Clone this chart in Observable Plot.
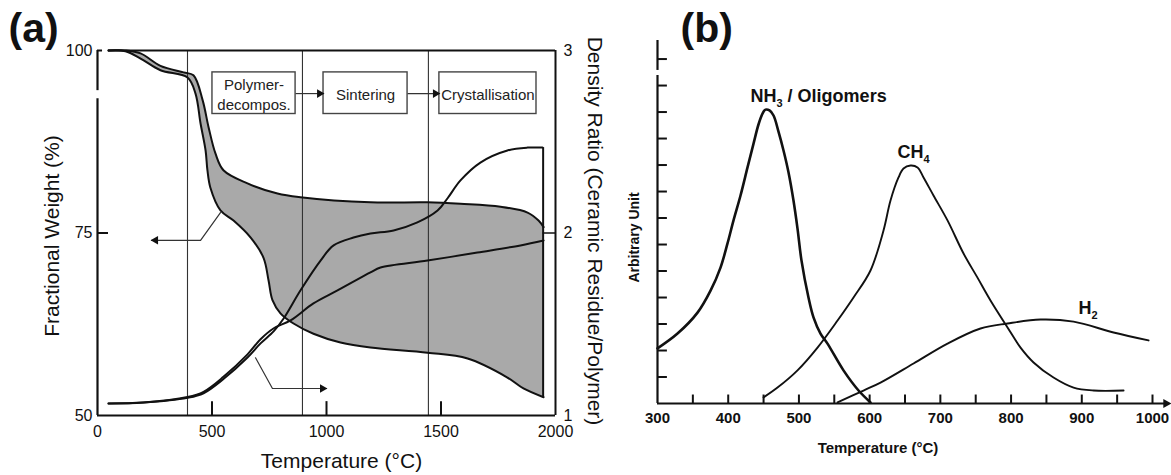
<!DOCTYPE html>
<html>
<head>
<meta charset="utf-8">
<script src="https://cdn.jsdelivr.net/npm/d3@7"></script>
<script src="https://cdn.jsdelivr.net/npm/@observablehq/plot@0.6"></script>
<style>
  html, body { margin: 0; padding: 0; background: #fff; }
  #fig { position: relative; width: 1171px; height: 475px; overflow: hidden; background: #fff; }
  #fig > svg { position: absolute; top: 0; }
</style>
</head>
<body>
<div id="fig"></div>
<script>
// ---------- (a) thermogravimetry and density ratio vs temperature ----------
// upper and lower weight-loss curves (°C, %)
const tgaUpperT = [48, 122, 188, 275, 376, 419, 459, 485, 515, 550, 655, 786, 886, 1192, 1441, 1585, 1760, 1878, 1926, 1948];
const tgaUpperW = [100, 100, 99.6, 97.9, 97.0, 96.6, 93.2, 89.5, 85.9, 83.6, 81.8, 80.4, 79.9, 79.2, 79.2, 79.0, 78.6, 77.8, 76.7, 75.8];
const tgaLowerT = [48, 122, 188, 275, 393, 428, 450, 472, 480, 493, 537, 594, 668, 725, 747, 764, 799, 856, 943, 1061, 1192, 1441, 1616, 1790, 1860, 1948];
const tgaLowerW = [100, 99.9, 98.9, 97.3, 96.3, 94.1, 90.0, 86.3, 83.6, 81.2, 78.1, 76.7, 74.4, 71.6, 68.5, 65.8, 64.0, 62.6, 61.2, 60.0, 59.3, 58.6, 57.8, 55.2, 53.7, 52.5];

// density ratio curves (ceramic residue / polymer)
const densSteepT = [48, 201, 393, 463, 550, 655, 712, 770, 812, 886, 974, 1031, 1118, 1192, 1293, 1397, 1485, 1528, 1585, 1672, 1790, 1878, 1943];
const densSteepD = [1.066, 1.071, 1.097, 1.122, 1.200, 1.318, 1.395, 1.462, 1.530, 1.685, 1.849, 1.932, 1.975, 1.997, 2.014, 2.058, 2.123, 2.189, 2.288, 2.386, 2.452, 2.468, 2.468];
const densShallowT = [48, 201, 393, 463, 550, 655, 712, 770, 843, 943, 1048, 1192, 1236, 1441, 1659, 1847, 1948];
const densShallowD = [1.066, 1.071, 1.101, 1.130, 1.212, 1.335, 1.418, 1.478, 1.521, 1.614, 1.685, 1.784, 1.811, 1.849, 1.893, 1.932, 1.959];

// process stages
const stageNames = ["Polymer-\ndecompos.", "Sintering", "Crystallisation"];
const stageT1 = [502, 987, 1493];
const stageT2 = [865, 1354, 1917];
const stageTop = 97.0, stageBottom = 91.3;
const stageBoundaries = [393, 895, 1445];

// pointers from the curves to their axes
const weightPointerT = [537, 450, 236];
const weightPointerW = [77.8, 74.0, 74.0];
const densityPointerT = [690, 764, 1000];
const densityPointerW = [57.9, 53.7, 53.7];

const xTicksA = [0, 500, 1000, 1500, 2000];
const weightTicks = [50, 75, 100];

// density ratio 1..3 shares the 50..100 % weight scale
const toW = d => 50 + (d - 1) * 25;
const toD = w => 1 + (w - 50) / 25;

const lowerRevT = tgaLowerT.slice().reverse();
const lowerRevW = tgaLowerW.slice().reverse();
// closed outline of the band between both weight curves (corners doubled to stay sharp)
const bandT = [...tgaUpperT, tgaUpperT.at(-1), lowerRevT[0], ...lowerRevT];
const bandW = [...tgaUpperW, tgaUpperW.at(-1), lowerRevW[0], ...lowerRevW];

const font = "'Liberation Sans', Arial, Helvetica, sans-serif";
const ink = "#111";
const plain = d => String(d);

const plotA = Plot.plot({
  width: 610, height: 475,
  marginLeft: 97, marginRight: 55, marginTop: 50, marginBottom: 60,
  x: {domain: [0, 2000]},
  y: {domain: [50, 100]},
  style: {fontFamily: font, fontSize: "16px", background: "transparent", color: ink, overflow: "visible"},
  marks: [
    // shaded band
    Plot.line(bandW, {x: bandT, y: bandW, fill: "#a9a9a9", stroke: "none", curve: "catmull-rom"}),
    // stage boundaries
    Plot.ruleX(stageBoundaries, {y1: 50, y2: 100, stroke: "#333", strokeWidth: 1.1}),
    // weight curves
    Plot.line(tgaUpperW, {x: tgaUpperT, y: tgaUpperW, stroke: ink, strokeWidth: 2, curve: "catmull-rom"}),
    Plot.line(tgaLowerW, {x: tgaLowerT, y: tgaLowerW, stroke: ink, strokeWidth: 2, curve: "catmull-rom"}),
    // density curves
    Plot.line(densSteepD, {x: densSteepT, y: densSteepD.map(toW), stroke: ink, strokeWidth: 2, curve: "catmull-rom"}),
    Plot.line(densShallowD, {x: densShallowT, y: densShallowD.map(toW), stroke: ink, strokeWidth: 2, curve: "catmull-rom"}),
    // end of the runs
    Plot.ruleX([1946], {y1: tgaLowerW.at(-1), y2: toW(densSteepD.at(-1)), stroke: ink, strokeWidth: 2}),
    Plot.ruleY([toW(2)], {x1: 1946, x2: 2000, stroke: ink, strokeWidth: 1.5}),
    // pointers
    Plot.line(weightPointerW, {x: weightPointerT, y: weightPointerW, stroke: "#333", strokeWidth: 1.2}),
    Plot.dot([0], {x: weightPointerT.at(-1), y: weightPointerW.at(-1), symbol: "triangle", rotate: -90, r: 3.2, dx: 4, fill: ink, stroke: "none"}),
    Plot.line(densityPointerW, {x: densityPointerT, y: densityPointerW, stroke: "#333", strokeWidth: 1.2}),
    Plot.dot([0], {x: densityPointerT.at(-1), y: densityPointerW.at(-1), symbol: "triangle", rotate: 90, r: 3.2, dx: -4, fill: ink, stroke: "none"}),
    // stage boxes and connectors
    Plot.rect(stageNames, {x1: stageT1, x2: stageT2, y1: stageBottom, y2: stageTop, fill: "#fff", stroke: "#444", strokeWidth: 1.4}),
    Plot.text(stageNames, {x: stageT1.map((t, i) => (t + stageT2[i]) / 2), y: (stageTop + stageBottom) / 2, fontSize: 15, lineHeight: 1.33, fill: "#222"}),
    Plot.link([0, 1], {x1: i => stageT2[i], x2: i => stageT1[i + 1], y1: 94.1, y2: 94.1, stroke: "#333", strokeWidth: 1.2}),
    Plot.dot([0, 1], {x: i => stageT1[i + 1], y: 94.1, symbol: "triangle", rotate: 90, r: 3.2, dx: -4, fill: ink, stroke: "none"}),
    // frame and axes
    Plot.ruleY([50], {x1: 0, x2: 2000, stroke: ink, strokeWidth: 2.2}),
    Plot.ruleY([100], {x1: 48, x2: 2000, stroke: ink, strokeWidth: 2}),
    Plot.ruleX([2000], {y1: 50, y2: 100, stroke: ink, strokeWidth: 2}),
    Plot.ruleX([0], {y1: 50, y2: 93.4, stroke: ink, strokeWidth: 2.2}),
    Plot.ruleX([0], {y1: 94.5, y2: 100, stroke: ink, strokeWidth: 2.2}),
    Plot.ruleY([100], {x1: 0, x2: 22, stroke: ink, strokeWidth: 2}),
    Plot.ruleY([75], {x1: 0, x2: 48, stroke: ink, strokeWidth: 2}),
    Plot.ruleX([500, 1000, 1500], {y1: 50, y2: 51.9, stroke: ink, strokeWidth: 2}),
    Plot.axisX({ticks: xTicksA, tickFormat: plain, tickSize: 0, tickPadding: 10, label: null, fontSize: 16}),
    Plot.axisY({anchor: "left", ticks: weightTicks, tickFormat: plain, tickSize: 0, tickPadding: 5, label: null, fontSize: 16}),
    Plot.axisY({anchor: "right", ticks: weightTicks, tickFormat: w => String(toD(w)), tickSize: 0, tickPadding: 8, label: null, fontSize: 16}),
    Plot.text(["Fractional Weight (%)"], {frameAnchor: "left", textAnchor: "middle", lineAnchor: "middle", rotate: -90, dx: -45, dy: 3, fontSize: 21}),
    Plot.text(["Density Ratio (Ceramic Residue/Polymer)"], {frameAnchor: "right", textAnchor: "middle", lineAnchor: "middle", rotate: 90, dx: 39, dy: -2, fontSize: 21}),
    Plot.text(["Temperature (°C)"], {frameAnchor: "bottom", textAnchor: "middle", lineAnchor: "middle", dx: 15, dy: 46, fontSize: 21}),
    Plot.text(["(a)"], {frameAnchor: "top-left", textAnchor: "start", lineAnchor: "middle", dx: -89, dy: -21.5, fontSize: 41, fontWeight: "bold"})
  ]
});

// ---------- (b) evolved gas species vs temperature ----------
const nh3T = [300, 328.3, 356.6, 375.0, 389.1, 399.0, 407.5, 417.4, 427.3, 435.8, 442.8, 448.5, 452.7, 458.4, 464.1, 471.1, 478.2, 485.3, 492.3, 498.0, 503.6, 513.5, 520.6, 530.5, 540.4, 563.0, 584.3, 601.2];
const nh3Y = [2.08, 2.64, 3.43, 4.26, 5.13, 6.04, 6.91, 7.85, 8.91, 9.81, 10.53, 10.94, 11.09, 11.06, 10.87, 10.26, 9.55, 8.72, 7.66, 6.60, 5.40, 4.00, 3.25, 2.64, 2.26, 1.25, 0.49, 0.04];
const ch4T = [450.0, 469.7, 498.0, 526.3, 554.6, 577.2, 601.2, 619.6, 629.5, 640.8, 647.9, 657.8, 667.7, 676.2, 690.3, 710.1, 732.8, 752.5, 770.9, 795.0, 813.4, 831.8, 860.0, 888.4, 916.6, 959.1];
const ch4Y = [0.23, 0.60, 1.25, 2.11, 3.13, 4.00, 5.02, 6.53, 7.66, 8.53, 8.87, 8.98, 8.91, 8.53, 7.85, 6.91, 5.66, 4.75, 3.89, 2.87, 2.11, 1.55, 0.98, 0.60, 0.49, 0.49];
const h2T = [554.6, 591.3, 615.4, 662.1, 710.1, 756.8, 795.0, 841.7, 888.4, 944.9, 994.4];
const h2Y = [0.04, 0.49, 0.79, 1.51, 2.26, 2.83, 3.02, 3.17, 3.09, 2.68, 2.38];

const speciesNames = ["NH3 / Oligomers", "CH4", "H2"];
const speciesLabelT = [431.5, 639.4, 895.4];
const speciesLabelY = [11.58, 9.47, 3.58];

const xTicksB = d3.range(300, 1001, 100);
const xMinorB = d3.range(350, 1001, 50);
const yTicksB = d3.range(1, 14);

const plotB = Plot.plot({
  width: 561, height: 475,
  marginLeft: 47, marginRight: 19, marginTop: 40, marginBottom: 72,
  x: {domain: [300, 1000]},
  y: {domain: [0, 13.7], axis: null},
  style: {fontFamily: font, fontSize: "15px", background: "transparent", color: ink, overflow: "visible"},
  marks: [
    Plot.line(nh3Y, {x: nh3T, y: nh3Y, stroke: ink, strokeWidth: 2.6, curve: "catmull-rom"}),
    Plot.line(ch4Y, {x: ch4T, y: ch4Y, stroke: ink, strokeWidth: 1.9, curve: "catmull-rom"}),
    Plot.line(h2Y, {x: h2T, y: h2Y, stroke: ink, strokeWidth: 1.9, curve: "catmull-rom"}),
    Plot.text(speciesNames, {x: speciesLabelT, y: speciesLabelY, textAnchor: "start", fontSize: 18, fontWeight: "bold"}),
    // axes
    Plot.ruleX([300], {y1: 0, y2: 12.38, stroke: ink, strokeWidth: 2.2}),
    Plot.ruleX([300], {y1: 12.57, y2: 13.7, stroke: ink, strokeWidth: 2.2}),
    Plot.ruleY(yTicksB, {x1: 300, x2: 314, stroke: ink, strokeWidth: 2}),
    Plot.ruleY([0], {x1: 300, x2: 1019, stroke: ink, strokeWidth: 2.2}),
    Plot.dot([0], {x: 1019, y: 0, symbol: "triangle", rotate: 90, r: 3.4, fill: ink, stroke: "none"}),
    Plot.ruleX(xMinorB, {y1: 0, y2: 0.32, stroke: ink, strokeWidth: 2}),
    Plot.axisX({ticks: xTicksB, tickFormat: plain, tickSize: 0, tickPadding: 9, label: null, fontSize: 15, fontWeight: "bold"}),
    Plot.text(["Temperature (°C)"], {frameAnchor: "bottom", textAnchor: "middle", lineAnchor: "middle", dx: -27, dy: 45, fontSize: 15, fontWeight: "bold"}),
    Plot.text(["Arbitrary Unit"], {frameAnchor: "left", textAnchor: "middle", lineAnchor: "middle", rotate: -90, dx: -23, dy: 15.5, fontSize: 14, fontWeight: "bold"}),
    Plot.text(["(b)"], {frameAnchor: "top-left", textAnchor: "start", lineAnchor: "middle", dx: 23, dy: -11.5, fontSize: 41, fontWeight: "bold"})
  ]
});

// chemical formulas: set the digit as a subscript
plotB.querySelectorAll("text").forEach(t => {
  const m = t.textContent.match(/^(NH|CH|H)(\d)(.*)$/);
  if (!m) return;
  t.textContent = "";
  const ns = "http://www.w3.org/2000/svg";
  const a = document.createElementNS(ns, "tspan"); a.textContent = m[1];
  const b = document.createElementNS(ns, "tspan"); b.textContent = m[2];
  b.setAttribute("font-size", "11"); b.setAttribute("dy", "5");
  t.append(a, b);
  if (m[3]) {
    const c = document.createElementNS(ns, "tspan"); c.textContent = m[3];
    c.setAttribute("dy", "-5");
    t.append(c);
  }
});

plotA.style.left = "0px";
plotB.style.left = "610px";
document.getElementById("fig").append(plotA, plotB);
</script>
</body>
</html>
